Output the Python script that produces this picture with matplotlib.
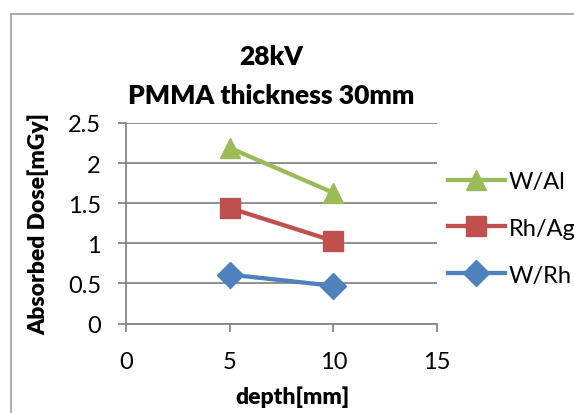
"""
line chart: absorbed dose vs depth, 28kV, PMMA 30mm
"""
import matplotlib
matplotlib.use("Agg")
import matplotlib.pyplot as plt
from matplotlib.patches import Rectangle

plt.rcParams['font.family'] = ['Lato', 'DejaVu Sans']

depth = [5, 10]
w_al = [2.19, 1.63]
rh_ag = [1.44, 1.03]
w_rh = [0.61, 0.47]

series = [
    ("W/Al", w_al, "#9BBB59", "^", 14),
    ("Rh/Ag", rh_ag, "#C0504D", "s", 14),
    ("W/Rh", w_rh, "#4F81BD", "D", 13),
]

fig = plt.figure(figsize=(5.74, 4.14), dpi=100)
# chart area border (cut off at right and bottom like the screenshot)
fig.patches.append(Rectangle((11 / 574, -0.1), 1.2, 1 - 15 / 414 + 0.1,
                             transform=fig.transFigure, fill=False,
                             edgecolor="#A6A6A6", linewidth=1.3))

ax = fig.add_axes([126 / 574, 1 - 324.5 / 414, 311 / 574, 200.5 / 414])

for name, vals, col, mk, ms in series:
    ax.plot(depth, vals, color=col, linewidth=3.1, marker=mk, markersize=ms,
            label=name)

ax.set_xlim(0, 15)
ax.set_ylim(0, 2.5)
ax.set_xticks([0, 5, 10, 15])
ax.set_yticks([0, 0.5, 1, 1.5, 2, 2.5])
ax.set_yticklabels(["0", "0.5", "1", "1.5", "2", "2.5"])
ax.grid(axis="y", color="#868686", linewidth=1.3)
ax.set_axisbelow(True)
for s in ["top", "right"]:
    ax.spines[s].set_visible(False)
for s in ["left", "bottom"]:
    ax.spines[s].set_color("#868686")
    ax.spines[s].set_linewidth(1.3)
ax.tick_params(axis="both", colors="#868686", labelcolor="black",
               labelsize=17, width=1.3, length=6)
ax.tick_params(axis="x", pad=14)
ax.tick_params(axis="y", pad=12)

ax.set_xlabel("depth[mm]", fontsize=16.5, fontweight=800)
ax.xaxis.set_label_coords((292 - 126) / 311, -(397 - 324.5) / 200.5)
ax.xaxis.label.set_va("center")
ax.set_ylabel("Absorbed Dose[mGy]", fontsize=16.5, fontweight=800)
ax.yaxis.set_label_coords(-(126 - 38.5) / 311, 0.5)
ax.yaxis.label.set_va("center")

fig.text(271 / 574, 1 - 65 / 414, "28kV", ha="center", va="baseline",
         fontsize=19, fontweight=800)
fig.text(271 / 574, 1 - 104 / 414, "PMMA thickness 30mm", ha="center",
         va="baseline", fontsize=19, fontweight=800)

ax.legend(loc="center left", bbox_to_anchor=(1.035, 0.475), frameon=False,
          fontsize=17, handlelength=2.4, handletextpad=0.17,
          labelspacing=1.1, borderaxespad=0, borderpad=0)

fig.savefig("out.png", dpi=100)
